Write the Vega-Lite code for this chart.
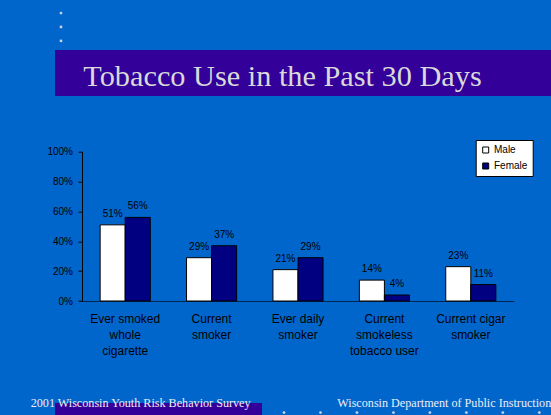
{
  "$schema": "https://vega.github.io/schema/vega-lite/v6.json",
  "background": "#0066CC",
  "padding": {"left": 30, "top": 4, "right": 0, "bottom": 0},
  "config": {
    "view": {"stroke": null},
    "font": "Liberation Sans"
  },
  "spacing": 36,
  "vconcat": [
    {
      "spacing": 50.7,
      "vconcat": [
        {
          "spacing": 0,
          "vconcat": [
            {
              "width": 12,
              "height": 46,
              "data": {"values": [{"dot": 1}, {"dot": 2}, {"dot": 3}]},
              "mark": {"type": "circle", "size": 8, "color": "#C8D2E6", "opacity": 1},
              "encoding": {
                "y": {"field": "dot", "type": "ordinal", "axis": null, "scale": {"padding": 0.65}}
              }
            },
            {
              "width": 496,
              "height": 46,
              "view": {"fill": "#330099"},
              "data": {"values": [{"heading": "Tobacco Use in the Past 30 Days"}]},
              "mark": {
                "type": "text",
                "font": "Liberation Serif",
                "fontSize": 30.3,
                "color": "#D9D9D9",
                "align": "left",
                "baseline": "alphabetic",
                "dx": -219.7,
                "dy": 13
              },
              "encoding": {"text": {"field": "heading"}}
            }
          ]
        },
        {
          "width": 459,
          "height": 149.3,
          "data": {
            "values": [
              {"measure": "Ever smoked whole cigarette", "sex": "Male", "share": 0.51},
              {"measure": "Ever smoked whole cigarette", "sex": "Female", "share": 0.56},
              {"measure": "Current smoker", "sex": "Male", "share": 0.29},
              {"measure": "Current smoker", "sex": "Female", "share": 0.37},
              {"measure": "Ever daily smoker", "sex": "Male", "share": 0.21},
              {"measure": "Ever daily smoker", "sex": "Female", "share": 0.29},
              {"measure": "Current smokeless tobacco user", "sex": "Male", "share": 0.14},
              {"measure": "Current smokeless tobacco user", "sex": "Female", "share": 0.04},
              {"measure": "Current cigar smoker", "sex": "Male", "share": 0.23},
              {"measure": "Current cigar smoker", "sex": "Female", "share": 0.11}
            ]
          },
          "encoding": {
            "x": {
              "field": "measure",
              "type": "nominal",
              "sort": null,
              "scale": {"range": [27, 459], "paddingInner": 0.42, "paddingOuter": 0.21},
              "axis": {
                "title": null,
                "labelAngle": 0,
                "ticks": false,
                "tickSize": 0,
                "grid": false,
                "domainColor": "#00264D",
                "domainWidth": 1,
                "labelFont": "Liberation Sans",
                "labelFontSize": 12,
                "labelColor": "#000000",
                "labelBaseline": "alphabetic",
                "labelPadding": 21.7,
                "labelLineHeight": 16,
                "labelOverlap": false,
                "minExtent": 60,
                "maxExtent": 60,
                "labelExpr": "{'Ever smoked whole cigarette': ['Ever smoked', 'whole', 'cigarette'], 'Current smoker': ['Current', 'smoker'], 'Ever daily smoker': ['Ever daily', 'smoker'], 'Current smokeless tobacco user': ['Current', 'smokeless', 'tobacco user'], 'Current cigar smoker': ['Current cigar', 'smoker']}[datum.value]"
              }
            },
            "xOffset": {
              "field": "sex",
              "type": "nominal",
              "sort": ["Male", "Female"],
              "scale": {"paddingInner": 0, "paddingOuter": 0}
            },
            "y": {
              "field": "share",
              "type": "quantitative",
              "scale": {"domain": [0, 1], "nice": false},
              "axis": {
                "title": null,
                "offset": -27,
                "values": [0, 0.2, 0.4, 0.6, 0.8, 1],
                "format": ".0%",
                "grid": false,
                "domainColor": "#000000",
                "domainWidth": 1,
                "tickColor": "#000000",
                "tickSize": 4,
                "tickWidth": 1,
                "labelPadding": 5.5,
                "labelFont": "Liberation Sans",
                "labelFontSize": 10,
                "labelColor": "#000000",
                "minExtent": 0
              }
            }
          },
          "layer": [
            {
              "mark": {"type": "bar", "stroke": "#000000", "strokeWidth": 1},
              "encoding": {
                "color": {
                  "field": "sex",
                  "type": "nominal",
                  "sort": ["Male", "Female"],
                  "scale": {"domain": ["Male", "Female"], "range": ["#FFFFFF", "#000080"]},
                  "legend": {
                    "title": null,
                    "orient": "none",
                    "legendX": 420.7,
                    "legendY": 136,
                    "fillColor": "#FFFFFF",
                    "strokeColor": "#000000",
                    "padding": 5,
                    "rowPadding": 6,
                    "symbolType": "square",
                    "symbolSize": 36,
                    "symbolStrokeColor": "#000000",
                    "symbolStrokeWidth": 1,
                    "labelFont": "Liberation Sans",
                    "labelFontSize": 10,
                    "labelColor": "#000000",
                    "labelOffset": 3.3
                  }
                }
              }
            },
            {
              "mark": {"type": "text", "baseline": "alphabetic", "dy": -8, "font": "Liberation Sans", "fontSize": 10, "color": "#000000"},
              "encoding": {
                "text": {"field": "share", "type": "quantitative", "format": ".0%"}
              }
            }
          ]
        }
      ]
    },
    {
      "spacing": 0,
      "hconcat": [
        {
          "width": 207,
          "height": 12.3,
          "view": {"fill": "#330099"},
          "data": {"values": [{"note": "2001 Wisconsin Youth Risk Behavior Survey"}]},
          "mark": {
            "type": "text",
            "font": "Liberation Serif",
            "fontSize": 12.15,
            "color": "#EEEEF4",
            "align": "left",
            "baseline": "alphabetic",
            "dx": -127.8,
            "dy": -1.85
          },
          "encoding": {"text": {"field": "note"}}
        },
        {
          "width": 289,
          "height": 19.2,
          "layer": [
            {
              "data": {"values": [{"note": "Wisconsin Department of Public Instruction"}]},
              "mark": {
                "type": "text",
                "font": "Liberation Serif",
                "fontSize": 12.15,
                "color": "#EEEEF4",
                "align": "left",
                "baseline": "alphabetic",
                "dx": -69.2,
                "dy": -5.3
              },
              "encoding": {"text": {"field": "note"}}
            },
            {
              "data": {"values": [{"dot": 1}, {"dot": 2}, {"dot": 3}, {"dot": 4}, {"dot": 5}, {"dot": 6}, {"dot": 7}, {"dot": 8}]},
              "mark": {"type": "circle", "size": 8, "color": "#C8D2E6", "opacity": 1},
              "encoding": {
                "x": {"field": "dot", "type": "ordinal", "axis": null, "scale": {"padding": 0.462, "align": 0.653}}
              }
            }
          ]
        }
      ]
    }
  ]
}
